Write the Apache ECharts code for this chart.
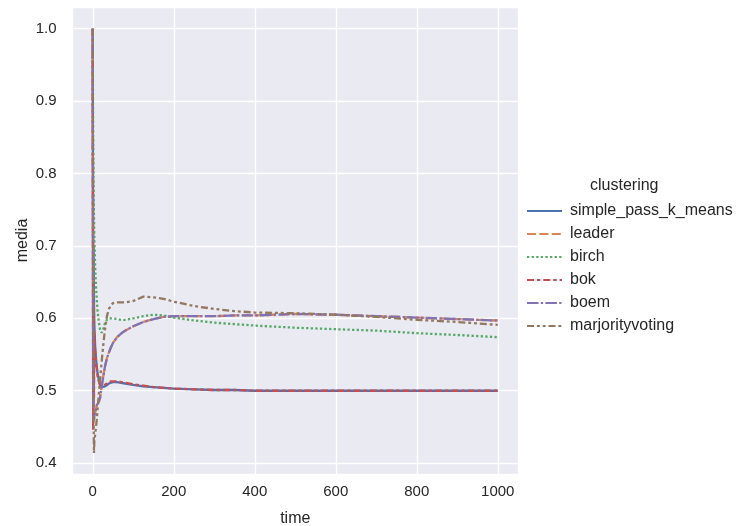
<!DOCTYPE html>
<html>
<head>
<meta charset="utf-8">
<script src="https://cdn.jsdelivr.net/npm/echarts@6/dist/echarts.min.js"></script>
<style>
  html, body { margin: 0; padding: 0; background: #fff; }
  #chart { width: 736px; height: 526px; }
</style>
</head>
<body>
<div id="chart"></div>
<script>
// time steps shared by every series
const times = [0, 1, 2, 3, 4, 6, 8, 10, 12, 15, 18, 22, 26, 30, 35, 40, 45, 50, 60, 70, 80,
  100, 125, 150, 175, 200, 250, 300, 350, 400, 500, 600, 700, 800, 900, 1000];

const simplePassKMeans = [1.0, 0.48, 0.70, 0.62, 0.59, 0.56, 0.545, 0.533, 0.524, 0.515, 0.508, 0.505, 0.505, 0.506, 0.508, 0.510, 0.511, 0.512, 0.512, 0.511, 0.510,
  0.508, 0.506, 0.505, 0.504, 0.503, 0.502, 0.501, 0.501, 0.500, 0.500, 0.500, 0.500, 0.500, 0.500, 0.500];
const leader = [1.0, 0.56, 0.47, 0.46, 0.465, 0.47, 0.475, 0.48, 0.482, 0.485, 0.49, 0.505, 0.52, 0.533, 0.545, 0.553, 0.56, 0.566, 0.574, 0.579, 0.583,
  0.589, 0.595, 0.599, 0.602, 0.603, 0.603, 0.603, 0.604, 0.604, 0.606, 0.605, 0.603, 0.601, 0.599, 0.597];
const birch = [1.0, 0.85, 0.78, 0.74, 0.71, 0.67, 0.645, 0.625, 0.61, 0.595, 0.585, 0.58, 0.585, 0.593, 0.598, 0.600, 0.600, 0.600, 0.599, 0.598, 0.598,
  0.600, 0.603, 0.605, 0.604, 0.601, 0.597, 0.594, 0.592, 0.590, 0.587, 0.585, 0.583, 0.5795, 0.577, 0.574];
const bok = [1.0, 0.446, 0.62, 0.49, 0.58, 0.555, 0.54, 0.53, 0.52, 0.513, 0.508, 0.506, 0.507, 0.508, 0.510, 0.512, 0.513, 0.513, 0.513, 0.512, 0.511,
  0.509, 0.507, 0.505, 0.504, 0.503, 0.502, 0.501, 0.501, 0.500, 0.500, 0.500, 0.500, 0.500, 0.500, 0.500];
const boem = [1.0, 0.55, 0.47, 0.46, 0.465, 0.47, 0.475, 0.48, 0.482, 0.485, 0.49, 0.505, 0.52, 0.533, 0.545, 0.553, 0.56, 0.566, 0.574, 0.579, 0.583,
  0.589, 0.595, 0.599, 0.602, 0.603, 0.603, 0.603, 0.604, 0.604, 0.606, 0.605, 0.603, 0.601, 0.599, 0.597];
const majorityVoting = [1.0, 0.70, 0.46, 0.414, 0.43, 0.44, 0.45, 0.46, 0.475, 0.495, 0.515, 0.54, 0.563, 0.584, 0.603, 0.613, 0.618, 0.621, 0.622, 0.622, 0.622,
  0.624, 0.630, 0.629, 0.627, 0.623, 0.617, 0.613, 0.610, 0.608, 0.607, 0.605, 0.602, 0.598, 0.595, 0.591];

const names = ['simple_pass_k_means', 'leader', 'birch', 'bok', 'boem', 'marjorityvoting'];
const values = [simplePassKMeans, leader, birch, bok, boem, majorityVoting];
const colors = ['#4C72B0', '#DD8452', '#55A868', '#C44E52', '#8172B3', '#937860'];
const dashes = ['solid', [9, 3.4], [2.3, 2.3], [7, 2.9, 3.5, 2.9], [11.5, 2.3, 2.3, 2.3], [7, 2.9, 2.9, 2.9, 2.9, 2.9]];

const textColor = '#262626';
const font = 'Liberation Sans, Arial, sans-serif';

let chart = echarts.init(document.getElementById('chart'));
chart.setOption({
  animation: false,
  textStyle: { fontFamily: font },
  grid: {
    left: 72.5, right: 218, top: 7, bottom: 52,
    outerBoundsMode: 'none', containLabel: false,
    show: true, backgroundColor: '#EAEAF2', borderWidth: 0
  },
  legend: {
    orient: 'vertical',
    left: 521, top: 198,
    itemWidth: 35, itemHeight: 14, itemGap: 7,
    data: names,
    itemStyle: { color: 'rgba(0,0,0,0)', borderWidth: 0 },
    textStyle: { color: textColor, fontSize: 16, fontFamily: font, padding: [0, 0, 0, 3] }
  },
  graphic: [{
    type: 'text', left: 590, top: 178,
    style: { text: 'clustering', fill: textColor, font: '16px ' + font }
  }],
  xAxis: {
    type: 'value', min: -50, max: 1050,
    name: 'time', nameLocation: 'middle', nameGap: 37,
    nameTextStyle: { color: textColor, fontSize: 16 },
    axisLine: { show: false }, axisTick: { show: false },
    axisLabel: {
      color: textColor, fontSize: 15, margin: 10, showMinLabel: false, showMaxLabel: false,
      formatter: v => String(v)
    },
    splitLine: { lineStyle: { color: '#fff', width: 1.3 } }
  },
  yAxis: {
    type: 'value', min: 0.385, max: 1.03, splitNumber: 6,
    name: 'media', nameLocation: 'middle', nameGap: 42, nameMoveOverlap: false,
    nameTextStyle: { color: textColor, fontSize: 16 },
    axisLine: { show: false }, axisTick: { show: false },
    axisLabel: {
      color: textColor, fontSize: 15, margin: 16, showMinLabel: false, showMaxLabel: false,
      formatter: v => v.toFixed(1)
    },
    splitLine: { lineStyle: { color: '#fff', width: 1.3 } }
  },
  series: names.map((n, i) => ({
    name: n,
    type: 'line',
    symbol: 'none',
    data: times.map((t, j) => [t, values[i][j]]),
    color: colors[i],
    lineStyle: { color: colors[i], width: 2.3, type: dashes[i] },
    z: 2 + i
  }))
});
</script>
</body>
</html>
